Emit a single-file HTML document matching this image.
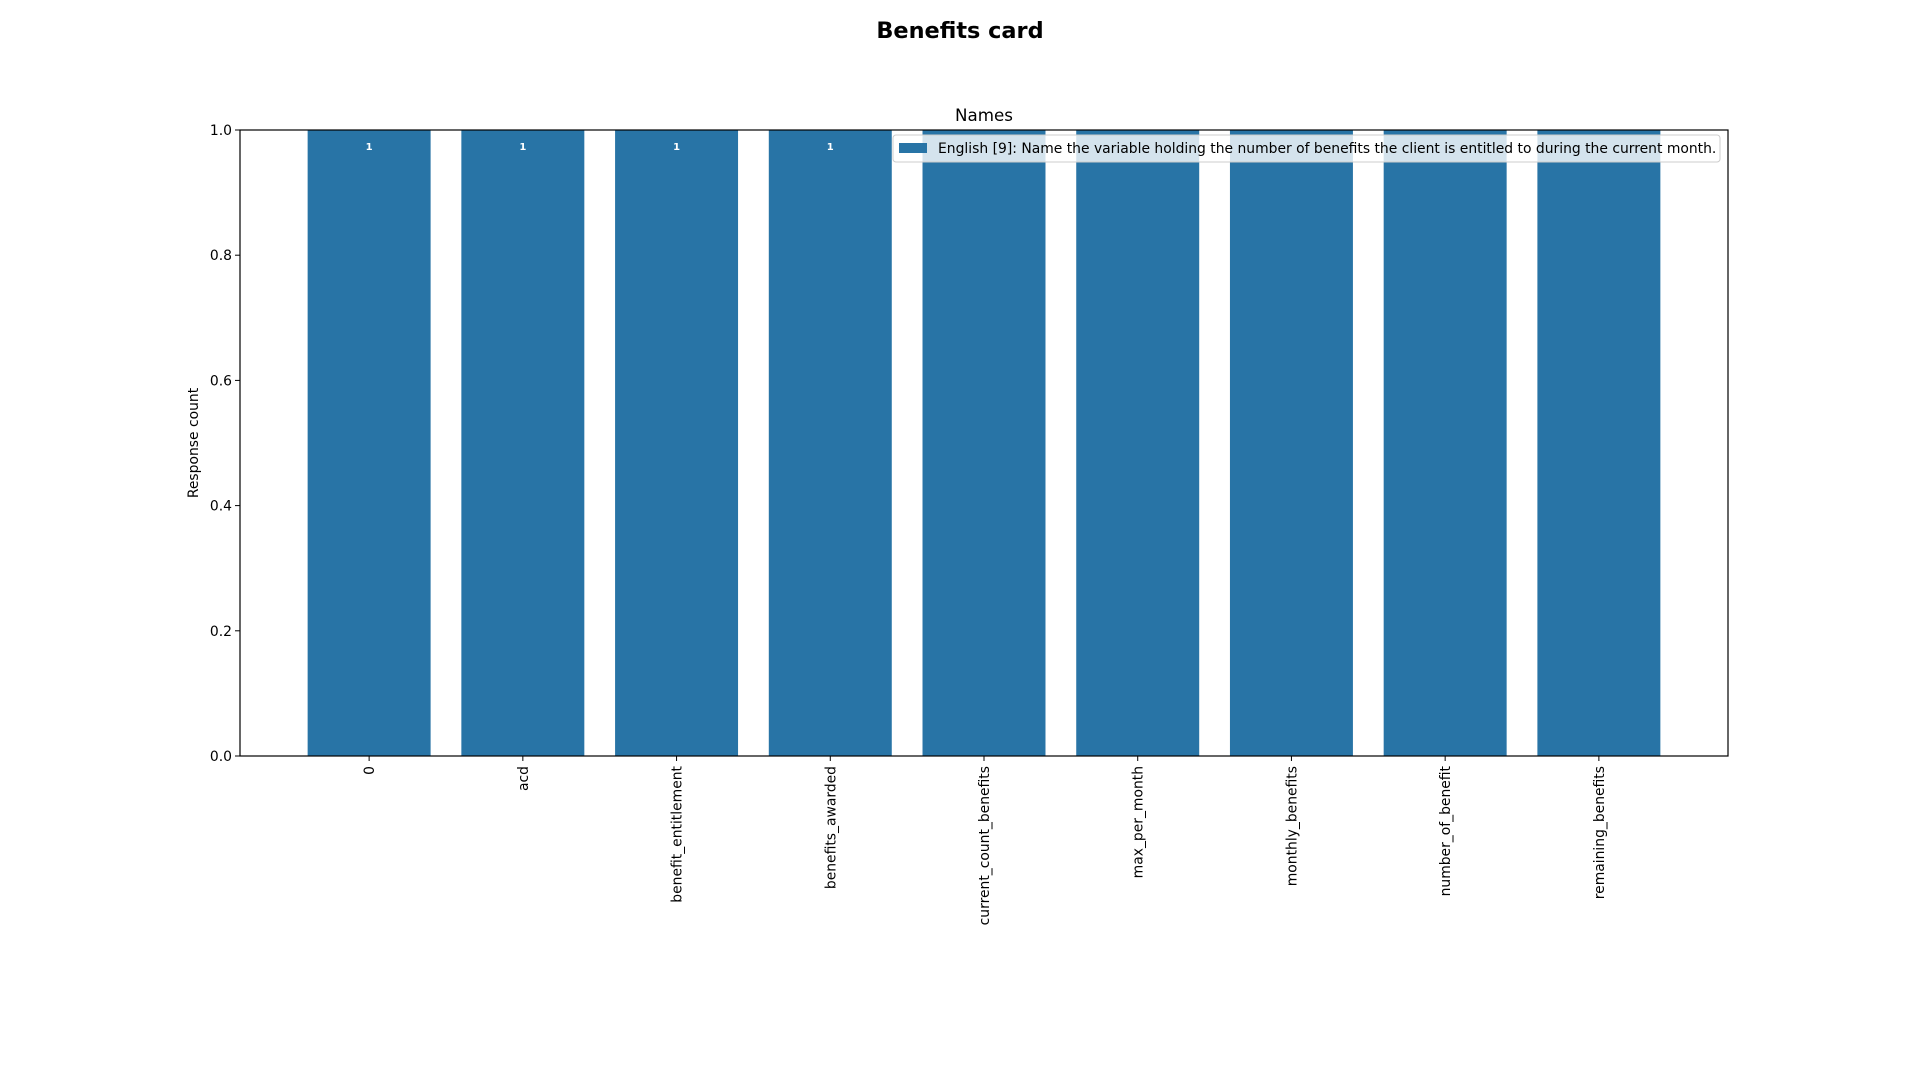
<!DOCTYPE html>
<html><head><meta charset="utf-8"><style>
body{margin:0;background:#fff;}
svg{display:block;font-family:"DejaVu Sans","Liberation Sans",sans-serif;}
</style></head><body>
<svg id="chart" width="1920" height="1080" viewBox="0 0 1920 1080">
<text x="960" y="38" text-anchor="middle" font-size="22.4" font-weight="bold">Benefits card</text>
<text x="984" y="121" text-anchor="middle" font-size="16.7">Names</text>
<text transform="translate(198,443) rotate(-90)" text-anchor="middle" font-size="13.9">Response count</text>
<g id="bars"></g><g id="yticks"></g><g id="xticks"></g>
<rect x="240" y="130" width="1488" height="626" fill="none" stroke="#000" stroke-width="1.2"/>
<g>
<rect x="893" y="135" width="827" height="27" rx="3" fill="#fff" fill-opacity="0.8" stroke="#ccc"/>
<rect x="899" y="143" width="28" height="10" fill="#2874a6"/>
<text x="938" y="153" font-size="13.9">English [9]: Name the variable holding the number of benefits the client is entitled to during the current month.</text>
</g>
</svg>
<script>
const categories=["0","acd","benefit_entitlement","benefits_awarded","current_count_benefits","max_per_month","monthly_benefits","number_of_benefit","remaining_benefits"];
const values=[1,1,1,1,1,1,1,1,1];
const barLabels=["1","1","1","1","","","","",""];
const yTicks=[0,0.2,0.4,0.6,0.8,1.0];
const L=240,R=1728,T=130,B=756,xmin=-0.84,xmax=8.84,ymin=0,ymax=1;
const ns="http://www.w3.org/2000/svg";
const xs=v=>L+(v-xmin)/(xmax-xmin)*(R-L);
const ys=v=>B-(v-ymin)/(ymax-ymin)*(B-T);
function mk(t,a,p){const e=document.createElementNS(ns,t);for(const k in a)e.setAttribute(k,a[k]);p.appendChild(e);return e;}
const gb=document.getElementById('bars'),gy=document.getElementById('yticks'),gx=document.getElementById('xticks');
categories.forEach((c,i)=>{
 const x0=xs(i-0.4),x1=xs(i+0.4);
 const r=mk('rect',{x:x0,y:ys(values[i]),width:x1-x0,height:ys(0)-ys(values[i]),fill:'#2874a6'},gb);
 
 
 if(barLabels[i]){const t=mk('text',{x:xs(i),y:ys(values[i])+20,'text-anchor':'middle','font-size':'10','font-weight':'bold',fill:'#fff'},gb);t.textContent=barLabels[i];
 
 }
 const tk=mk('line',{x1:xs(i),x2:xs(i),y1:B,y2:B+5,stroke:'#000'},gx);
 
 
 const tl=mk('text',{transform:`translate(${xs(i)+5},${B+10}) rotate(-90)`,'text-anchor':'end','font-size':'13.9'},gx);tl.textContent=c;
 
 
});
yTicks.forEach(v=>{
 const tk=mk('line',{x1:L-5,x2:L,y1:ys(v),y2:ys(v),stroke:'#000'},gy);
 
 
 const t=mk('text',{x:L-8,y:ys(v)+5,'text-anchor':'end','font-size':'13.9'},gy);t.textContent=v.toFixed(1);
 
 
});
</script>
</body></html>
